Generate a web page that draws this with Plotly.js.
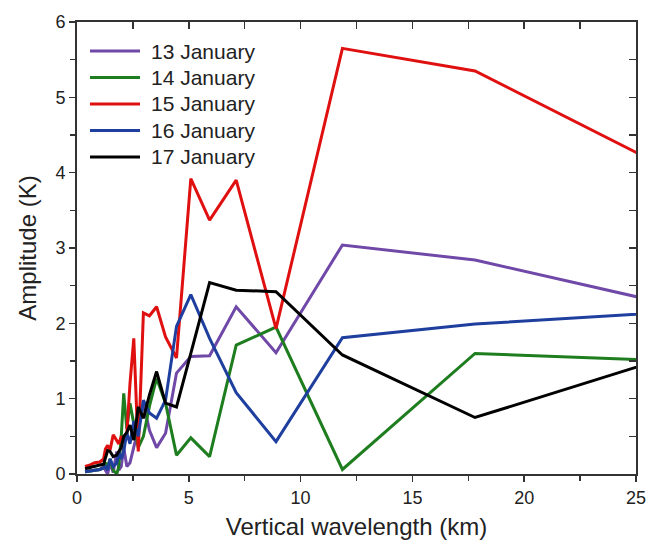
<!DOCTYPE html>
<html>
<head>
<meta charset="utf-8">
<script src="https://cdn.plot.ly/plotly-3.0.1.min.js"></script>
<style>html,body{margin:0;padding:0;background:#fff;}#chart{width:661px;height:540px;}</style>
</head>
<body>
<div id="chart"></div>
<script>
// Vertical wavelength (km); first point lies beyond the axis range and is clipped at 25 km
const wavelength = [35.6, 17.8, 11.87, 8.9, 7.12, 5.93, 5.09, 4.45, 3.96, 3.56, 3.24, 2.97, 2.74, 2.54, 2.37, 2.23, 2.09, 1.98, 1.87, 1.78, 1.62, 1.48, 1.37, 1.27, 1.19, 1.02, 0.79, 0.59, 0.36];

const seriesNames = ["13 January", "14 January", "15 January", "16 January", "17 January"];
const seriesColors = ["#7048a8", "#1e7d1e", "#e01010", "#1f3f9f", "#000000"];

const jan13 = [1.64, 2.84, 3.04, 1.61, 2.22, 1.57, 1.56, 1.34, 0.54, 0.35, 0.58, 0.95, 0.60, 0.35, 0.15, 0.10, 0.35, 0.10, 0.05, 0.30, 0.02, 0.15, 0.00, 0.05, 0.10, 0.06, 0.05, 0.04, 0.03];
const jan14 = [1.40, 1.60, 0.06, 1.95, 1.71, 0.23, 0.48, 0.25, 0.94, 1.27, 0.90, 0.50, 0.35, 0.70, 0.94, 0.60, 1.07, 0.50, 0.10, 0.00, 0.05, 0.20, 0.10, 0.15, 0.08, 0.06, 0.05, 0.04, 0.03];
const jan15 = [2.68, 5.35, 5.65, 1.93, 3.90, 3.37, 3.92, 1.54, 1.82, 2.22, 2.10, 2.14, 0.30, 1.80, 1.20, 0.55, 0.45, 0.50, 0.40, 0.45, 0.52, 0.32, 0.38, 0.33, 0.20, 0.16, 0.15, 0.12, 0.10];
const jan16 = [2.31, 1.99, 1.81, 0.43, 1.08, 1.80, 2.38, 1.96, 0.98, 0.74, 0.81, 0.98, 0.50, 0.70, 0.40, 0.55, 0.30, 0.20, 0.30, 0.15, 0.10, 0.20, 0.05, 0.10, 0.08, 0.06, 0.05, 0.04, 0.03];
const jan17 = [2.40, 0.75, 1.58, 2.42, 2.44, 2.54, 1.60, 0.89, 0.94, 1.36, 1.05, 0.74, 0.89, 0.45, 0.65, 0.55, 0.50, 0.35, 0.30, 0.25, 0.23, 0.30, 0.31, 0.20, 0.13, 0.12, 0.10, 0.09, 0.07];

const allSeries = [jan13, jan14, jan15, jan16, jan17];

const traces = allSeries.map((vals, i) => ({
  x: wavelength,
  y: vals,
  type: "scatter",
  mode: "lines",
  name: seriesNames[i],
  line: {color: seriesColors[i], width: 3},
  showlegend: false
}));
// empty trace so the mirrored inner-tick axes are drawn
traces.push({x: [], y: [], xaxis: "x2", yaxis: "y2", showlegend: false, hoverinfo: "skip", type: "scatter", mode: "lines"});

const FONT = "Liberation Sans, Arial, sans-serif";
const axisFont = {family: FONT, size: 18, color: "#222"};

// Legend drawn as paper-positioned line samples + text labels
const plotL = 77, plotR = 636, plotT = 22, plotB = 474;
const px2x = p => (p - plotL) / (plotR - plotL);
const py2y = p => (plotB - p) / (plotB - plotT);
const legendRows = [51, 77.5, 104, 130.5, 157];
const shapes = [], annotations = [];
seriesNames.forEach((nm, i) => {
  const yy = py2y(legendRows[i]);
  shapes.push({type: "line", xref: "paper", yref: "paper", x0: px2x(90), x1: px2x(140), y0: yy, y1: yy,
               line: {color: seriesColors[i], width: 3}});
  annotations.push({xref: "paper", yref: "paper", x: px2x(149), y: yy, xanchor: "left", yanchor: "middle",
                    text: nm, showarrow: false, font: {family: FONT, size: 21, color: "#222"}});
});

const layout = {
  width: 661,
  height: 540,
  margin: {l: plotL, r: 661 - plotR, t: plotT, b: 540 - plotB},
  paper_bgcolor: "#fff",
  plot_bgcolor: "#fff",
  showlegend: false,
  font: {family: FONT, color: "#222"},
  shapes: shapes,
  annotations: annotations,
  xaxis: {
    range: [0, 25],
    tickvals: [0, 5, 10, 15, 20, 25],
    ticks: "outside",
    ticklen: 6,
    tickwidth: 1.5,
    tickcolor: "#333",
    minor: {tickvals: [2.5, 7.5, 12.5, 17.5, 22.5], ticks: "outside", ticklen: 5, tickwidth: 1.5, tickcolor: "#333"},
    showline: true,
    linecolor: "#333",
    linewidth: 2,
    showgrid: false,
    zeroline: false,
    tickfont: axisFont,
    title: {text: "Vertical wavelength (km)", font: {family: FONT, size: 24, color: "#222"}, standoff: 14}
  },
  yaxis: {
    range: [0, 6],
    tickvals: [0, 1, 2, 3, 4, 5, 6],
    ticks: "outside",
    ticklen: 6,
    tickwidth: 1.5,
    tickcolor: "#333",
    minor: {tickvals: [0.5, 1.5, 2.5, 3.5, 4.5, 5.5], ticks: "outside", ticklen: 5, tickwidth: 1.5, tickcolor: "#333"},
    showline: true,
    linecolor: "#333",
    linewidth: 2,
    showgrid: false,
    zeroline: false,
    tickfont: axisFont,
    title: {text: "Amplitude (K)", font: {family: FONT, size: 24, color: "#222"}, standoff: 12}
  },
  xaxis2: {
    overlaying: "x",
    side: "top",
    range: [0, 25],
    tickvals: [0, 2.5, 5, 7.5, 10, 12.5, 15, 17.5, 20, 22.5, 25],
    ticks: "inside",
    ticklen: 7,
    tickwidth: 1.5,
    tickcolor: "#333",
    showticklabels: false,
    showline: true,
    linecolor: "#333",
    linewidth: 2,
    showgrid: false,
    zeroline: false
  },
  yaxis2: {
    overlaying: "y",
    side: "right",
    range: [0, 6],
    tickvals: [0, 0.5, 1, 1.5, 2, 2.5, 3, 3.5, 4, 4.5, 5, 5.5, 6],
    ticks: "inside",
    ticklen: 7,
    tickwidth: 1.5,
    tickcolor: "#333",
    showticklabels: false,
    showline: true,
    linecolor: "#333",
    linewidth: 2,
    showgrid: false,
    zeroline: false
  }
};

Plotly.newPlot("chart", traces, layout, {displayModeBar: false, staticPlot: true});
</script>
</body>
</html>
